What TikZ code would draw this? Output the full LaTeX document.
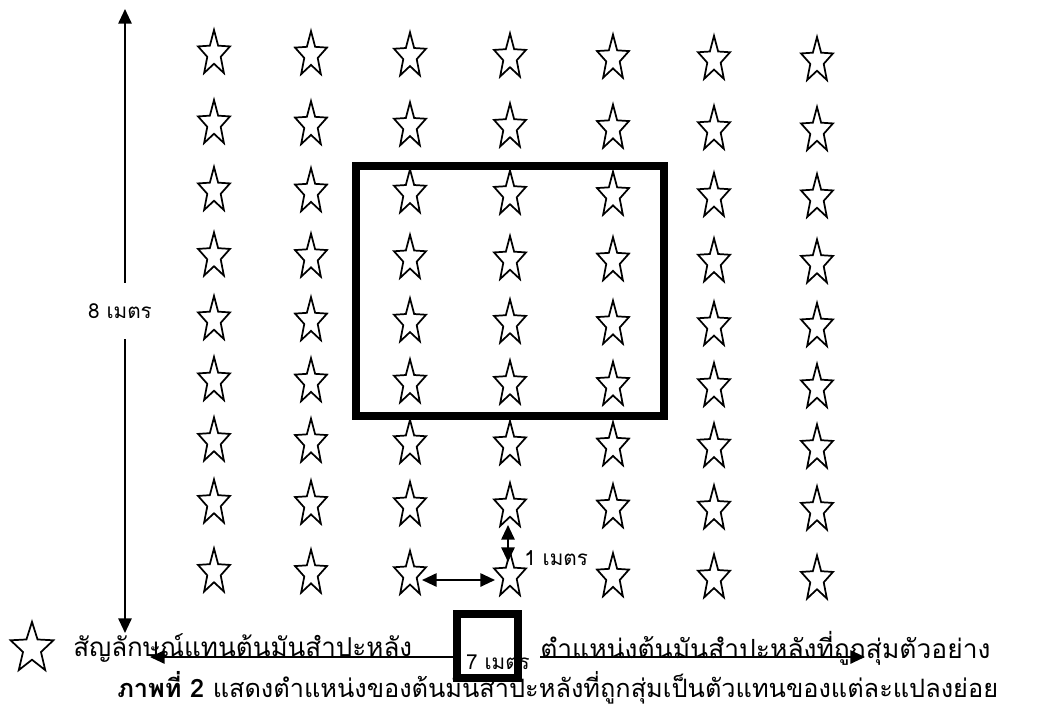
\documentclass[tikz,border=0pt]{standalone}
\usepackage{fontspec}
\newfontfamily\thai[Script=Thai]{Loma}
\usetikzlibrary{arrows.meta}
\begin{document}
\begin{tikzpicture}[x=0.75pt,y=-0.75pt,
  starline/.style={line width=1.3pt, line join=miter},
  dimarrow/.style={line width=1.4pt, {Triangle[length=11pt,width=10pt]}-{Triangle[length=11pt,width=10pt]}},
  boxframe/.style={line width=6pt},
  dimlabel/.style={font=\thai\fontsize{15.5}{18}\selectfont, fill=white, inner sep=1pt},
  legendtext/.style={font=\thai\fontsize{19.5}{23}\selectfont, anchor=base west, inner sep=0pt},
  captiontext/.style={font=\thai\fontsize{19}{23}\selectfont, anchor=base west, inner sep=0pt},
  starpic/.pic={\draw[starline, shift={(0,2.25)}, xscale=16.8, yscale=-23.8]
     (90:1) -- (126:0.42) -- (162:1) -- (198:0.42) -- (234:1) -- (270:0.42)
     -- (306:1) -- (342:0.42) -- (18:1) -- (54:0.42) -- cycle;}
]
\useasboundingbox (0,0) rectangle (1039,711);
\fill[white] (0,0) rectangle (1039,711);

% star grid
\foreach \c [count=\i from 0] in {214,311,410,510,613,714,817} {
  \foreach \r in {51.5,121.5,188.5,254,317.5,378.5,439,501,570} {
    \pic at ({\c},{\r+\i*1.17}) {starpic};
  }
}

% vertical 8 m arrow
\coordinate (vtop) at (125,9);
\coordinate (vbot) at (125,633);
\draw[dimarrow] (vtop) -- (vbot);
\node[dimlabel, minimum height=42pt] (lab8) at (120,311) {8 เมตร};

% horizontal 7 m arrow
\coordinate (hleft) at (150,657);
\coordinate (hright) at (865,657);
\draw[dimarrow] (hleft) -- (hright);
\node[dimlabel, minimum width=63pt] (lab7) at (498,662) {7 เมตร};

% small 1 m arrows
\coordinate (sa) at (422,580);
\coordinate (sb) at (495,580);
\draw[dimarrow] (sa) -- (sb);
\coordinate (sc) at (508,525);
\coordinate (sd) at (508,562);
\draw[dimarrow] (sc) -- (sd);
\node[font=\thai\fontsize{15.5}{18}\selectfont, anchor=west, inner sep=0pt] (lab1) at (524,558) {1 เมตร};

% frames
\draw[boxframe] (356,166) rectangle (664,416);
\draw[boxframe] (457,614) rectangle (518,678);

% legend
\pic[xscale=1.34, yscale=1.12] at (32,646) {starpic};
\node[legendtext] (leg1) at (73,656) {สัญลักษณ์แทนต้นมันสำปะหลัง};
\node[legendtext, font=\thai\fontsize{19.8}{24}\selectfont] (leg2) at (540,658) {ตำแหน่งต้นมันสำปะหลังที่ถูกสุ่มตัวอย่าง};

% caption
\node[captiontext] (cap) at (117,697) {\textbf{ภาพที่ 2} แสดงตำแหน่งของต้นมันสำปะหลังที่ถูกสุ่มเป็นตัวแทนของแต่ละแปลงย่อย};
\end{tikzpicture}
\end{document}
